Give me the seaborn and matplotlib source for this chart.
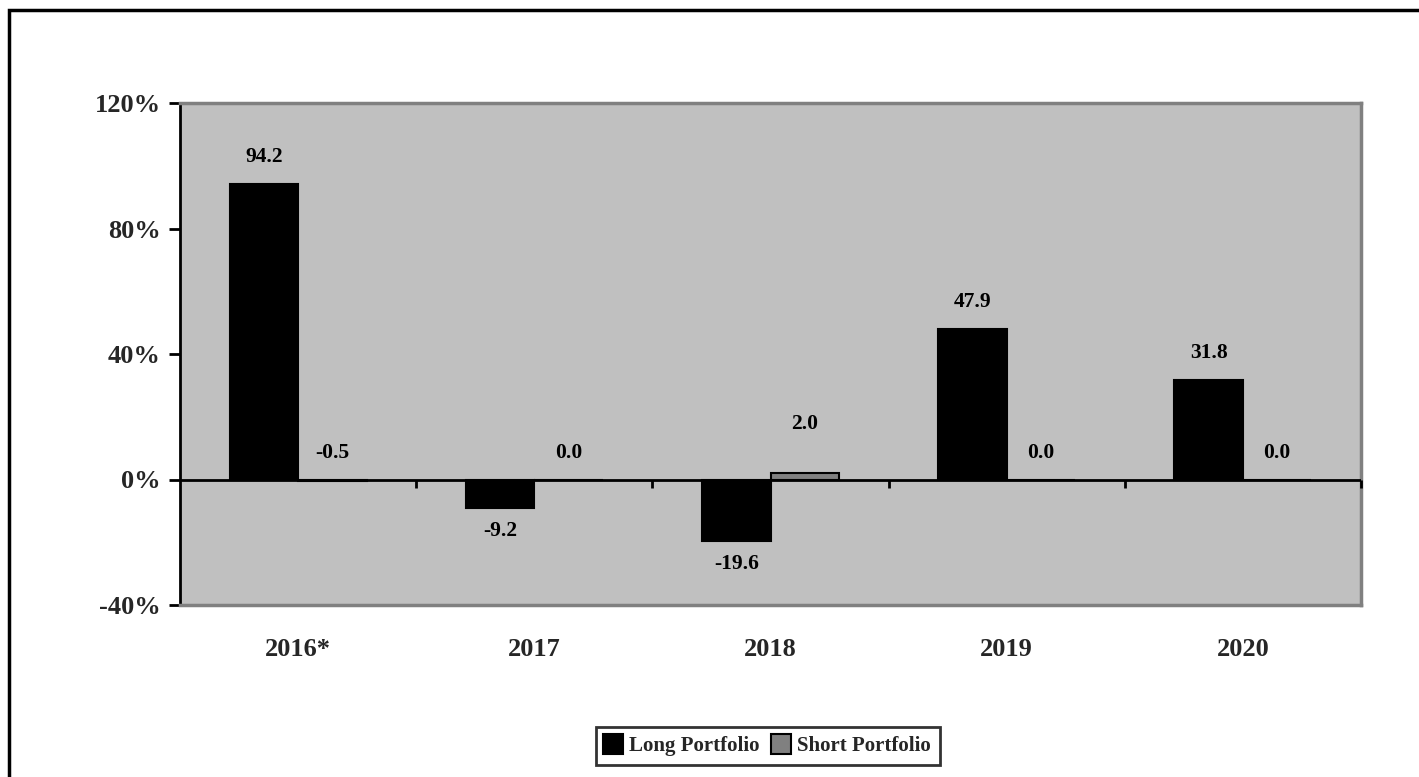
import matplotlib
matplotlib.use("Agg")
import matplotlib.pyplot as plt
from matplotlib.patches import Rectangle
from matplotlib.lines import Line2D
import seaborn as sns
import pandas as pd

years = ["2016*", "2017", "2018", "2019", "2020"]
long_returns = [94.2, -9.2, -19.6, 47.9, 31.8]
short_returns = [-0.5, 0.0, 2.0, 0.0, 0.0]
series_names = ["Long Portfolio", "Short Portfolio"]
y_ticks = [-40, 0, 40, 80, 120]

df = pd.DataFrame({
    "year": years * 2,
    "ret": long_returns + short_returns,
    "series": [series_names[0]] * len(years) + [series_names[1]] * len(years),
})

sns.set_theme(style="white")
plt.rcParams["font.family"] = ["Liberation Serif", "DejaVu Serif"]
plt.rcParams["font.weight"] = "bold"

W, H = 1419, 777
fig = plt.figure(figsize=(W / 100, H / 100), dpi=100)
ax = fig.add_axes([180 / W, 1 - 605 / H, (1361 - 180) / W, (605 - 103) / H])
ax.set_facecolor("#C0C0C0")

palette = {series_names[0]: "#000000", series_names[1]: "#808080"}
sns.barplot(data=df, x="year", y="ret", hue="series", order=years,
            hue_order=series_names, palette=palette, width=0.58, gap=0,
            edgecolor="black", linewidth=1.5, saturation=1, ax=ax,
            legend=False, errorbar=None)

ax.set_xlim(-0.5, len(years) - 0.5)
ax.set_ylim(-40, 120)
ax.set_yticks(y_ticks)
ax.set_yticklabels([f"{t}%" for t in y_ticks], fontsize=19, fontweight="bold")
ax.tick_params(axis="y", direction="out", length=8, width=2, color="black",
               pad=6, left=True)
ax.tick_params(axis="x", length=0, pad=24, labelsize=19)
for lab in ax.get_xticklabels():
    lab.set_fontweight("bold")
ax.set_xlabel("")
ax.set_ylabel("")

for side in ["top", "right", "bottom"]:
    ax.spines[side].set_color("#808080")
    ax.spines[side].set_linewidth(2.5)
ax.spines["left"].set_color("black")
ax.spines["left"].set_linewidth(2)

# zero line with category separators
ax.axhline(0, color="black", lw=2, zorder=3)
ax.vlines([i + 0.5 for i in range(len(years))], 0, -2.6, color="black",
          lw=2, zorder=3, clip_on=False)

# value labels
half = 0.58 / 4
extra = {(2, 1): 7}
for j, vals in enumerate([long_returns, short_returns]):
    xo = -half if j == 0 else half
    for i, v in enumerate(vals):
        if v >= -1:
            y = max(v, 0) + 8.6 + extra.get((i, j), 0)
        else:
            y = v - 7.3
        ax.text(i + xo, y, f"{v:.1f}", ha="center", va="center",
                fontsize=15.5, fontweight="bold", color="black")

# legend
handles = [Line2D([], [], marker="s", linestyle="none", markersize=14,
                  markerfacecolor=palette[n], markeredgecolor="black",
                  markeredgewidth=1.5) for n in series_names]
leg = fig.legend(handles, series_names, loc="center",
                 bbox_to_anchor=(768 / W, 1 - 746 / H), ncol=2,
                 frameon=True, fancybox=False, handlelength=0.75,
                 handletextpad=0.35, columnspacing=0.7, borderpad=0.45,
                 borderaxespad=0, prop={"size": 15, "weight": "bold"})
leg.get_frame().set_edgecolor("black")
leg.get_frame().set_linewidth(2)

# outer frame
fig.patches.append(Rectangle((9 / W, -0.1), 1.2, 1 - 10 / H + 0.1,
                             transform=fig.transFigure, fill=False,
                             edgecolor="black", linewidth=2.5))

fig.savefig("out.png", dpi=100)
